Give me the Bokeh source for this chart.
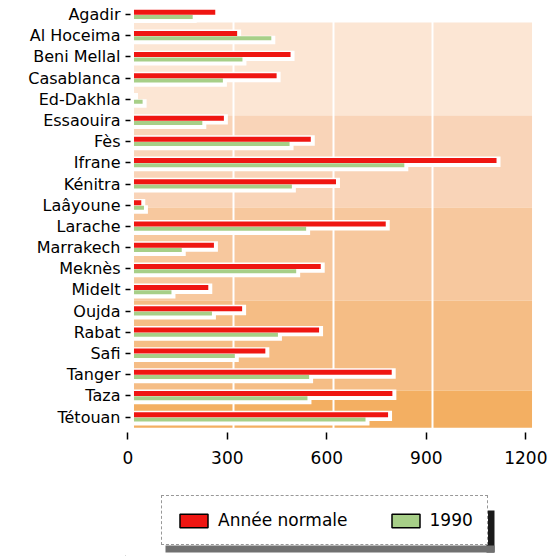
import numpy as np
from bokeh.plotting import figure
from bokeh.layouts import column
from bokeh.models import (Range1d, LinearAxis, FixedTicker, Grid, BoxAnnotation,
                          ColumnDataSource, Legend, LegendItem)
from bokeh.embed import file_html
from bokeh.resources import INLINE

# ---------------- data ----------------
cities = ["Agadir", "Al Hoceima", "Beni Mellal", "Casablanca", "Ed-Dakhla",
          "Essaouira", "Fès", "Ifrane", "Kénitra", "Laâyoune", "Larache",
          "Marrakech", "Meknès", "Midelt", "Oujda", "Rabat", "Safi",
          "Tanger", "Taza", "Tétouan"]
annee_normale = [245, 311, 472, 430, 0, 271, 533, 1093, 609, 22, 759,
                 241, 563, 224, 326, 558, 396, 777, 779, 766]
annee_1990 = [177, 414, 327, 268, 26, 206, 469, 815, 476, 30, 519,
              144, 489, 113, 235, 434, 304, 528, 523, 698]
x_ticks = [0, 300, 600, 900, 1200]
legend_labels = ["Année normale", "1990"]

# ---------------- style ----------------
RED = "#EF1612"
GREEN = "#A7CF88"
FONT = "DejaVu Sans"

n = len(cities)
pos = [n - 1 - i for i in range(n)]           # Agadir at the top
pos_arr = np.array(pos, dtype=float)
red_v = np.array(annee_normale, dtype=float)
grn_v = np.array(annee_1990, dtype=float)

src = ColumnDataSource(dict(
    pos=pos_arr,
    red=red_v, green=grn_v,
    red_y=pos_arr + 0.113, green_y=pos_arr - 0.113,
    red_halo_y=pos_arr + 0.055, green_halo_y=pos_arr - 0.20,
    red_halo_r=red_v + 12, green_halo_r=grn_v + 12,
))

FRAME_L, FRAME_R = 125, 20

p = figure(width=556, height=472,
           x_range=Range1d(-25.6, 1213.5), y_range=Range1d(-0.73, 19.29),
           x_axis_location=None, y_axis_location=None,
           output_backend="svg", toolbar_location=None,
           min_border_left=FRAME_L, min_border_right=FRAME_R,
           min_border_top=8, min_border_bottom=40)
p.outline_line_color = None
p.background_fill_color = "white"
p.border_fill_color = "white"
for g in p.grid:
    g.visible = False

# background bands (scanned orange tint)
bands = [(18.63, 14.24, "#FCE6D4"),
         (14.24, 9.89, "#F9D4B8"),
         (9.89, 5.5, "#F7C89E"),
         (5.5, 1.25, "#F5BD85"),
         (1.25, -0.5, "#F3AF62")]
for top, bottom, col in bands:
    p.add_layout(BoxAnnotation(left=0, right=1200, top=top, bottom=bottom,
                               fill_color=col, fill_alpha=1, line_color=None,
                               level="image"))

grid = Grid(dimension=0, ticker=FixedTicker(ticks=[300, 600, 900]),
            grid_line_color="white", grid_line_width=2)
p.add_layout(grid)

# white halos behind bars
p.hbar(y="red_halo_y", left=0, right="red_halo_r", height=0.49, source=src,
       fill_color="white", line_color=None)
p.hbar(y="green_halo_y", left=0, right="green_halo_r", height=0.40, source=src,
       fill_color="white", line_color=None)

# bars
p.hbar(y="green_y", left=0, right="green", height=0.19, source=src,
       fill_color=GREEN, line_color=None)
p.hbar(y="red_y", left=0, right="red", height=0.236, source=src,
       fill_color=RED, line_color=None)

# axes
p.extra_x_ranges = {"ax": Range1d(-6.9, 1232.2)}
xaxis = LinearAxis(x_range_name="ax", ticker=FixedTicker(ticks=x_ticks),
                   axis_line_color=None, major_tick_in=0, major_tick_out=7,
                   major_tick_line_color="black", major_tick_line_width=1.5,
                   minor_tick_line_color=None, major_label_standoff=11,
                   major_label_text_font=FONT, major_label_text_font_size="17px",
                   major_label_text_color="black")
p.add_layout(xaxis, "below")

yaxis = LinearAxis(ticker=FixedTicker(ticks=pos),
                   major_label_overrides={pos[i]: cities[i] for i in range(n)},
                   axis_line_color=None, major_tick_in=5, major_tick_out=0,
                   major_tick_line_color="black", major_tick_line_width=1.5,
                   minor_tick_line_color=None, major_label_standoff=5,
                   major_label_text_font=FONT, major_label_text_font_size="16px",
                   major_label_text_color="black")
p.add_layout(yaxis, "left")

# ---------------- legend panel (separate figure below) ----------------
# frame aligned with the main plot: data x == page x, data y == 556 - page y
p2 = figure(width=556, height=84,
            x_range=Range1d(FRAME_L, 556 - FRAME_R), y_range=Range1d(0, 84),
            x_axis_location=None, y_axis_location=None,
            output_backend="svg", toolbar_location=None,
            min_border_left=FRAME_L, min_border_right=FRAME_R,
            min_border_top=0, min_border_bottom=0)
p2.outline_line_color = None
p2.background_fill_color = "white"
p2.border_fill_color = "white"
for g in p2.grid:
    g.visible = False

# proxy renderers for the legend (kept outside the visible range)
leg_src = ColumnDataSource(dict(y=[-500], right=[0]))
r_leg = p2.hbar(y="y", left=0, right="right", height=1, source=leg_src,
                fill_color=RED, line_color="black", line_width=1.5)
g_leg = p2.hbar(y="y", left=0, right="right", height=1, source=leg_src,
                fill_color=GREEN, line_color="black", line_width=1.5)

# legend drop shadow
p2.add_layout(BoxAnnotation(left=486, right=494, top=46, bottom=4,
                            fill_color="#1a1a1a", fill_alpha=1, line_color=None))
p2.add_layout(BoxAnnotation(left=165, right=494, top=11, bottom=4,
                            fill_color="#707070", fill_alpha=1, line_color=None))

legend = Legend(items=[LegendItem(label=legend_labels[0], renderers=[r_leg]),
                       LegendItem(label=legend_labels[1], renderers=[g_leg])],
                orientation="horizontal", location=(161 - FRAME_L, 11),
                glyph_width=35, glyph_height=17, label_height=17,
                label_standoff=7, spacing=40, padding=14, margin=0,
                border_line_color="#333333", border_line_dash="3 2",
                border_line_width=1, background_fill_color="white",
                background_fill_alpha=1, label_text_font=FONT,
                label_text_font_size="17px", label_text_color="black")
p2.add_layout(legend)

layout = column(p, p2, spacing=0)
open("out.html", "w").write(file_html(layout, INLINE))
